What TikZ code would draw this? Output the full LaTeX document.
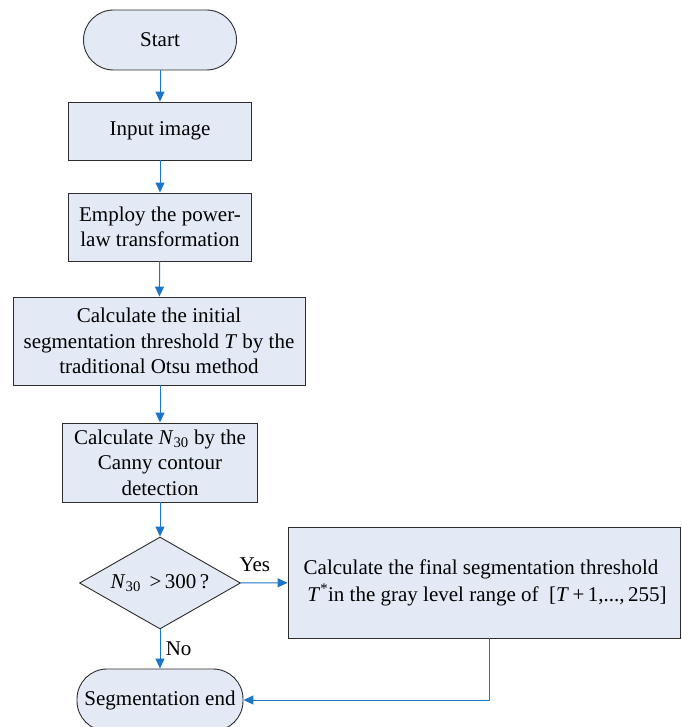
\documentclass[tikz,border=0pt]{standalone}
\usepackage{fontspec}
\setmainfont{Liberation Serif}
\usepackage{tikz}
\usetikzlibrary{%
  arrows.meta,%
  shapes.geometric,% wg. diamond
  positioning%
}
\definecolor{boxfill}{RGB}{227,234,245}
\definecolor{boxline}{RGB}{45,45,45}
\definecolor{flowblue}{RGB}{28,117,200}

\begin{document}
\begin{tikzpicture}
  [x=1pt, y=1pt, font=\fontsize{21}{25.5}\selectfont,
   >={Triangle[length=10pt,width=9pt]},
   box/.style={draw=boxline, fill=boxfill, line width=0.9pt, align=center, inner sep=2pt},
   terminal/.style={box, rounded corners=30pt},
   decision/.style={box, diamond, aspect=1.75, inner sep=0pt},
   flow/.style={->, draw=flowblue, line width=1pt}]

\useasboundingbox (0,0) rectangle (681,-727);
\clip (0,0) rectangle (681,-727);

\node[terminal, minimum width=153pt, minimum height=60pt] (start) at (160,-40) {Start};
\node[box, minimum width=183pt, minimum height=58pt] (input) at (160,-131) {Input image};
\node[box, minimum width=183pt, minimum height=68pt] (power) at (160,-227) {Employ the power-\\law transformation};
\node[box, minimum width=292pt, minimum height=88pt] (otsu) at (159,-341)
  {Calculate the initial\\segmentation threshold \textit{T} by the\\traditional Otsu method};
\node[box, minimum width=195pt, minimum height=79pt] (canny) at (160,-462.5)
  {Calculate \textit{N}\textsubscript{30} by the\\Canny contour\\detection};
\node[decision, minimum width=161pt, minimum height=92pt] (check) at (160,-583)
  {\textit{N}\textsubscript{30} \,>\,300\,?};
\node[box, minimum width=392pt, minimum height=111pt, font=\fontsize{21}{27}\selectfont] (final) at (484,-582.5)
  {Calculate the final segmentation threshold\hspace*{6pt}\\
   \hspace*{6pt}\textit{T}\textsuperscript{*}in the gray level range of \ [\textit{T}\,+\,1,...,\,255]};
\node[terminal, minimum width=166pt, minimum height=62pt] (finish) at (160,-700) {Segmentation end};

\draw[flow] (start) -- (input);
\draw[flow] (input) -- (power);
\draw[flow] (power) -- (otsu);
\draw[flow] (otsu.south -| canny) -- (canny);
\draw[flow] (canny) -- (check);
\draw[flow] (check) -- node[above=7pt, pos=0.3] (yes) {Yes} (final);
\draw[flow] (check) -- node[right=2pt] (no) {No} (finish);
\draw[flow] ([xshift=5pt]final.south) |- (finish.east);
\end{tikzpicture}
\end{document}
